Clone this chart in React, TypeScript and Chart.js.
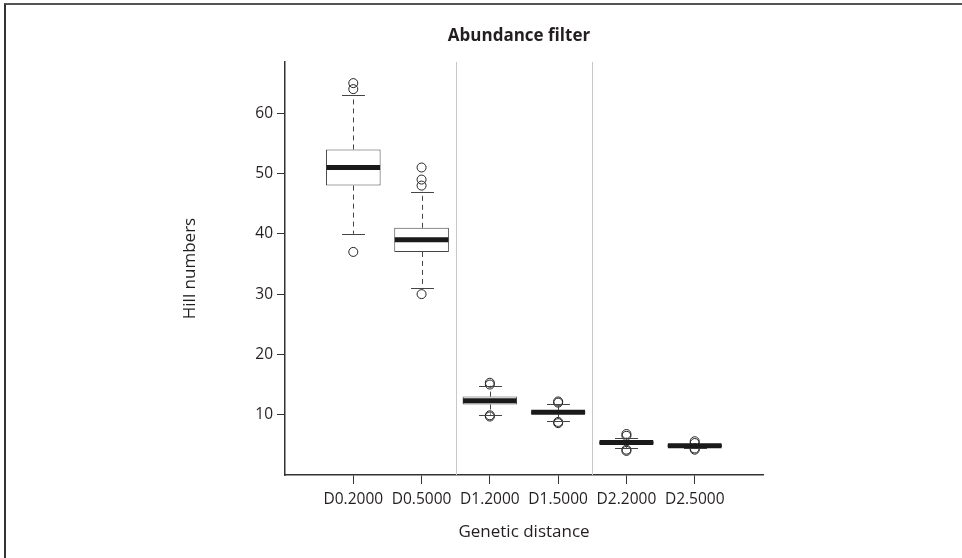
import React, { useEffect, useRef } from "react";
import { Chart, registerables } from "chart.js";

Chart.register(...registerables);

const chartTitle = "Abundance filter";
const categories = ["D0.2000", "D0.5000", "D1.2000", "D1.5000", "D2.2000", "D2.5000"];
const groups = ["D0", "D0", "D1", "D1", "D2", "D2"];
const q1 = [48, 37, 11.7, 10.1, 5.1, 4.6];
const medians = [51, 39, 12.3, 10.4, 5.4, 4.85];
const q3 = [54, 41, 13.0, 10.7, 5.6, 5.1];
const whiskerLow = [40, 31, 10.0, 9.0, 4.5, 4.5];
const whiskerHigh = [63, 47, 14.8, 11.7, 6.2, 5.2];
const outliers: number[][] = [
  [64, 65, 37],
  [48, 49, 51, 30],
  [15.0, 15.3, 9.7, 9.9],
  [12.0, 12.2, 8.8, 8.6],
  [6.5, 6.8, 4.2, 4.0],
  [5.6, 5.3, 4.4, 4.2],
];
const yTicks = [10, 20, 30, 40, 50, 60];
const yMin = 0;
const yMax = 68.5;

const FONT = "'Open Sans', 'Noto Sans', sans-serif";
const INK = "#231f20";

const boxplotPlugin = {
  id: "boxplotExtras",
  beforeDatasetsDraw(chart: any) {
    const { ctx, chartArea, scales } = chart;
    const x = scales.x;
    ctx.save();
    ctx.strokeStyle = "#c8c8c8";
    ctx.lineWidth = 1;
    for (let i = 1; i < groups.length; i++) {
      if (groups[i] !== groups[i - 1]) {
        const px = Math.round(x.getPixelForValue(i + 0.5)) + 0.5;
        ctx.beginPath();
        ctx.moveTo(px, chartArea.top);
        ctx.lineTo(px, chartArea.bottom);
        ctx.stroke();
      }
    }
    ctx.restore();
  },
  afterDatasetDraw(chart: any, args: any) {
    if (args.index !== 0) return;
    const { ctx, scales } = chart;
    const y = scales.y;
    const meta = chart.getDatasetMeta(0);
    ctx.save();
    meta.data.forEach((bar: any, i: number) => {
      const cx = Math.round(bar.x) + 0.5;
      const half = bar.width / 2;
      const capHalf = bar.width * 0.21;
      const pTop = y.getPixelForValue(q3[i]);
      const pBot = y.getPixelForValue(q1[i]);
      const pHi = y.getPixelForValue(whiskerHigh[i]);
      const pLo = y.getPixelForValue(whiskerLow[i]);
      ctx.strokeStyle = "#444";
      ctx.lineWidth = 1;
      ctx.setLineDash([5, 4]);
      ctx.beginPath();
      ctx.moveTo(cx, pTop);
      ctx.lineTo(cx, pHi);
      ctx.moveTo(cx, pBot);
      ctx.lineTo(cx, pLo);
      ctx.stroke();
      ctx.setLineDash([]);
      ctx.beginPath();
      ctx.moveTo(cx - capHalf, Math.round(pHi) + 0.5);
      ctx.lineTo(cx + capHalf, Math.round(pHi) + 0.5);
      ctx.moveTo(cx - capHalf, Math.round(pLo) + 0.5);
      ctx.lineTo(cx + capHalf, Math.round(pLo) + 0.5);
      ctx.stroke();
      const pMed = y.getPixelForValue(medians[i]);
      ctx.strokeStyle = "#1a1a1a";
      ctx.lineWidth = 5;
      ctx.beginPath();
      ctx.moveTo(bar.x - half + 0.5, pMed);
      ctx.lineTo(bar.x + half - 0.5, pMed);
      ctx.stroke();
    });
    ctx.restore();
  },
  afterDraw(chart: any) {
    const { ctx, chartArea } = chart;
    ctx.save();
    ctx.fillStyle = INK;
    ctx.font = `bold 17px ${FONT}`;
    ctx.textAlign = "center";
    ctx.textBaseline = "middle";
    ctx.fillText(chartTitle, (chartArea.left + chartArea.right) / 2 - 5, chartArea.top - 26);
    ctx.restore();
  },
};

export default function App() {
  const ref = useRef<HTMLCanvasElement | null>(null);

  useEffect(() => {
    if (!ref.current) return;
    const boxData = categories.map((_, i) => ({ x: i + 1, y: [q1[i], q3[i]] }));
    const outlierData: { x: number; y: number }[] = [];
    outliers.forEach((arr, i) => arr.forEach((v) => outlierData.push({ x: i + 1, y: v })));

    const chart = new Chart(ref.current, {
      type: "bar",
      data: {
        datasets: [
          {
            type: "bar",
            label: "box",
            data: boxData as any,
            backgroundColor: "#ffffff",
            borderColor: "#444444",
            borderWidth: 1,
            borderSkipped: false,
            barPercentage: 0.8,
            categoryPercentage: 1,
          } as any,
          {
            type: "line",
            label: "outliers",
            data: outlierData as any,
            showLine: false,
            pointStyle: "circle",
            pointRadius: 4.5,
            pointBorderWidth: 1,
            pointBorderColor: "#222",
            pointBackgroundColor: "rgba(0,0,0,0)",
          } as any,
        ],
      },
      options: {
        responsive: false,
        animation: false,
        devicePixelRatio: 1,
        layout: { padding: { left: 180, right: 199, top: 62, bottom: 16 } },
        plugins: {
          legend: { display: false },
          tooltip: { enabled: false },
          title: { display: false },
        },
        scales: {
          x: {
            type: "linear",
            min: 0,
            max: 7,
            offset: false,
            afterBuildTicks: (s: any) => {
              s.ticks = categories.map((_, i) => ({ value: i + 1 }));
            },
            afterFit: (s: any) => {
              s.height = 67;
            },
            ticks: {
              autoSkip: false,
              maxRotation: 0,
              minRotation: 0,
              color: INK,
              padding: 6,
              font: { family: FONT, size: 15.5 },
              callback: (v: any) => categories[Number(v) - 1] ?? "",
            },
            grid: {
              offset: false,
              drawOnChartArea: false,
              drawTicks: true,
              tickLength: 9,
              tickColor: "#333",
            },
            border: { display: true, color: "#333", width: 1.5 },
            title: {
              display: true,
              text: "Genetic distance",
              color: INK,
              font: { family: FONT, size: 17 },
              padding: 0,
            },
          },
          y: {
            type: "linear",
            min: yMin,
            max: yMax,
            afterBuildTicks: (s: any) => {
              s.ticks = yTicks.map((v) => ({ value: v }));
            },
            afterFit: (s: any) => {
              s.width = 105;
            },
            ticks: {
              color: INK,
              padding: 4,
              font: { family: FONT, size: 15.5 },
              callback: (v: any) => String(v),
            },
            grid: {
              drawOnChartArea: false,
              drawTicks: true,
              tickLength: 8,
              tickColor: "#333",
            },
            border: { display: true, color: "#333", width: 1.5 },
            title: {
              display: true,
              text: "Hill numbers",
              color: INK,
              font: { family: FONT, size: 17 },
              padding: 0,
            },
          },
        },
      },
      plugins: [boxplotPlugin],
    });
    return () => chart.destroy();
  }, []);

  return (
    <div
      style={{
        position: "fixed",
        left: 0,
        top: 0,
        width: 962,
        height: 558,
        background: "#ffffff",
        overflow: "hidden",
      }}
    >
      <canvas ref={ref} width={962} height={558} style={{ position: "absolute", left: 0, top: 0 }} />
      <div
        style={{
          position: "absolute",
          left: 4,
          top: 3,
          width: 980,
          height: 580,
          borderLeft: "2px solid #333",
          borderTop: "2px solid #555",
          pointerEvents: "none",
        }}
      />
    </div>
  );
}
